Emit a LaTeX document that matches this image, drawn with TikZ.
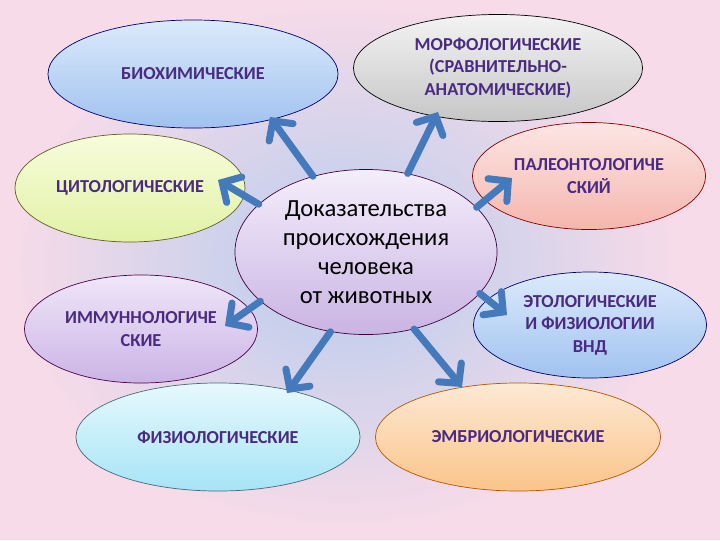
\documentclass[tikz,border=0pt]{standalone}
\usepackage{fontspec}
\setmainfont{Carlito}
\usetikzlibrary{shapes.geometric,arrows.meta}

\definecolor{bgpink}{HTML}{F7DBE8}
\definecolor{bgblue}{HTML}{B6CCEE}
\definecolor{arrblue}{HTML}{4479BC}
\definecolor{txtpurple}{HTML}{4A2A82}
\definecolor{biotop}{HTML}{DCEAFB}
\definecolor{biobot}{HTML}{A0C2F0}
\definecolor{cyttop}{HTML}{F7FCDC}
\definecolor{cytbot}{HTML}{E2F2A6}
\definecolor{immtop}{HTML}{F0E6F8}
\definecolor{immbot}{HTML}{CBB4E6}
\definecolor{phytop}{HTML}{E6F9FD}
\definecolor{phybot}{HTML}{A6E4F6}
\definecolor{embtop}{HTML}{FDE9D4}
\definecolor{embbot}{HTML}{FBC48A}
\definecolor{paltop}{HTML}{FCE6E4}
\definecolor{palbot}{HTML}{F5B6AE}
\definecolor{mortop}{HTML}{F3F3F3}
\definecolor{morbot}{HTML}{C6C6C6}
\definecolor{ctrtop}{HTML}{F4EEFB}
\definecolor{ctrbot}{HTML}{CAB4E3}

\tikzset{
  ev/.style={ellipse, inner sep=0pt, line width=0.5pt, align=center,
    font=\fontsize{13}{16}\selectfont\bfseries, text=txtpurple},
  arr/.style={line width=5pt, draw=arrblue, line cap=round,
    -{Straight Barb[length=10pt,width=21pt,line cap=round]}}
}

\begin{document}
\begin{tikzpicture}[x=0.025cm, y=-0.025cm]
  %background
  \useasboundingbox (0,0) rectangle (720,540);
  \fill[bgpink] (0,0) rectangle (720,540);
  \shade[inner color=bgblue, outer color=bgpink] (10,0) rectangle (680,530);

  %outer ellipses
  \node[ev, draw=black!60!blue, top color=biotop, bottom color=biobot,
    minimum width=7.25cm, minimum height=2.7cm] (bio) at (193,74) {БИОХИМИЧЕСКИЕ};
  \node[ev, draw=olive!60!black, top color=cyttop, bottom color=cytbot,
    minimum width=5.75cm, minimum height=2.7cm] (cyt) at (130,188) {ЦИТОЛОГИЧЕСКИЕ};
  \node[ev, draw=violet!60!black, top color=immtop, bottom color=immbot,
    minimum width=5.825cm, minimum height=2.7cm] (imm) at (141,329) {ИММУННОЛОГИЧЕ\\СКИЕ};
  \node[ev, draw=cyan!40!black, top color=phytop, bottom color=phybot,
    minimum width=7.1cm, minimum height=2.7cm] (phy) at (218,437) {ФИЗИОЛОГИЧЕСКИЕ};
  \node[ev, draw=orange!70!black, top color=embtop, bottom color=embbot,
    minimum width=7.125cm, minimum height=2.7cm] (emb) at (518,437) {ЭМБРИОЛОГИЧЕСКИЕ};
  \node[ev, draw=black!60!blue, top color=biotop, bottom color=biobot,
    minimum width=5.825cm, minimum height=2.65cm] (eth) at (590,325)
    {ЭТОЛОГИЧЕСКИЕ\\И ФИЗИОЛОГИИ\\ВНД};
  \node[ev, draw=red!50!black, top color=paltop, bottom color=palbot,
    minimum width=5.825cm, minimum height=2.675cm] (pal) at (589,176) {ПАЛЕОНТОЛОГИЧЕ\\СКИЙ};
  \node[ev, draw=black, top color=mortop, bottom color=morbot,
    minimum width=7.225cm, minimum height=2.675cm] (mor) at (498,68)
    {МОРФОЛОГИЧЕСКИЕ\\(СРАВНИТЕЛЬНО-\\АНАТОМИЧЕСКИЕ)};

  %centre
  \node[ellipse, inner sep=0pt, align=center, line width=0.5pt, draw=violet!50!black,
    top color=ctrtop, bottom color=ctrbot, minimum width=6.55cm, minimum height=4.125cm,
    font=\fontsize{17.5}{20.5}\selectfont] (ctr) at (366,252)
    {Доказательства\\происхождения\\человека\\от животных};

  %arrow tips
  \coordinate (tbio) at (270,117);
  \coordinate (tcyt) at (218,180);
  \coordinate (tmor) at (438,112);
  \coordinate (tpal) at (512,178);
  \coordinate (teth) at (507,315);
  \coordinate (temb) at (462,387);
  \coordinate (tphy) at (287,393);
  \coordinate (timm) at (225,326);

  \draw[arr] (ctr.125) -- (tbio);
  \draw[arr] (ctr.156) -- (tcyt);
  \draw[arr] (ctr.62) -- (tmor);
  \draw[arr] (ctr.22) -- (tpal);
  \draw[arr] (ctr.-20) -- (teth);
  \draw[arr] (ctr.-58) -- (temb);
  \draw[arr] (ctr.-114) -- (tphy);
  \draw[arr] (ctr.-155) -- (timm);
\end{tikzpicture}
\end{document}
